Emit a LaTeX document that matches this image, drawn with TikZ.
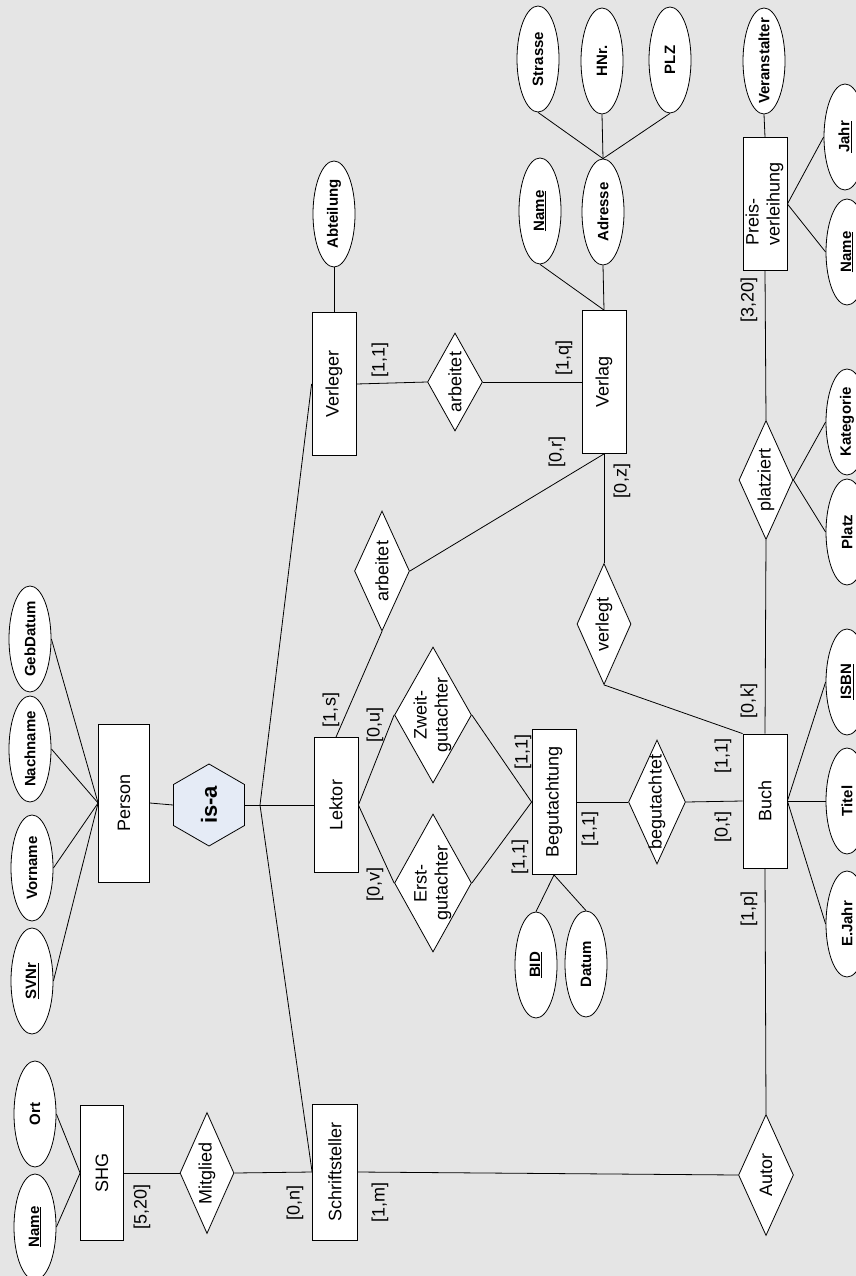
\documentclass[tikz,border=0pt]{standalone}
\usepackage{graphicx}
\usepackage{fontspec}
\setmainfont{Liberation Sans}
\usetikzlibrary{shapes.geometric}
\definecolor{bgcol}{RGB}{229,229,229}
\definecolor{isafill}{RGB}{229,235,246}
\newcommand\rtext[1]{\rotatebox{90}{#1}}
\newcommand\nf{\fontsize{18}{21}\selectfont}
\newcommand\af{\fontsize{15}{17}\selectfont\bfseries}
\tikzset{
  base/.style={draw=black, line width=0.8pt, fill=white, inner sep=0pt},
  entity/.style={base, rectangle, minimum width=44, minimum height=#1, font=\nf},
  rel/.style 2 args={base, diamond, minimum width=#1, minimum height=#2},
  attr/.style={base, ellipse, minimum width=42, minimum height=106},
  card/.style={inner sep=0pt, font=\nf},
  conn/.style={draw=black, line width=0.8pt},
}
\begin{document}
\begin{tikzpicture}[x=1pt,y=-1pt]
\useasboundingbox (0,0) rectangle (856,1276);
\fill[bgcol] (0,0) rectangle (856,1276);
\clip (0,0) rectangle (856,1276);

% entities
\node[entity=143] (verleger) at (334,384) {\rtext{Verleger}};
\node[entity=143] (verlag) at (604,382) {\rtext{Verlag}};
\node[entity=133] (preis) at (765,204) {\rtext{\begin{tabular}{@{}l@{}}Preis-\\verleihung\end{tabular}}};
\node[entity=158, minimum width=51] (person) at (124,803) {\rtext{Person}};
\node[entity=135] (lektor) at (336,805) {\rtext{Lektor}};
\node[entity=145] (begut) at (554,802) {\rtext{Begutachtung}};
\node[entity=134] (buch) at (765,801) {\rtext{Buch}};
\node[entity=136, minimum width=45] (schrift) at (335,1172) {\rtext{Schriftsteller}};
\node[entity=135, minimum width=43] (shg) at (102,1173) {\rtext{SHG}};

% is-a
\node[base, regular polygon, regular polygon sides=6, regular polygon rotate=30,
      minimum size=82, fill=isafill,
      label=center:{\rtext{\bfseries\fontsize{22}{24}\selectfont is-a}}] (isa) at (209,805) {};

% relationships
\node[rel={55}{98}, label=center:{\rtext{\nf arbeitet}}] (arb1) at (455,382) {};
\node[rel={55}{120}, label=center:{\rtext{\nf arbeitet}}] (arb2) at (382,571) {};
\node[rel={77}{136}, label=center:{\rtext{\nf\begin{tabular}{@{}c@{}}Zweit-\\gutachter\end{tabular}}}] (zweit) at (433,715) {};
\node[rel={77}{138}, label=center:{\rtext{\nf\begin{tabular}{@{}c@{}}Erst-\\gutachter\end{tabular}}}] (erst) at (433,883) {};
\node[rel={57}{124}, label=center:{\rtext{\nf begutachtet}}] (begrel) at (657,802) {};
\node[rel={54}{121}, label=center:{\rtext{\nf verlegt}}] (verlegt) at (604,624) {};
\node[rel={54}{119}, label=center:{\rtext{\nf platziert}}] (platziert) at (766,480) {};
\node[rel={55}{121}, label=center:{\rtext{\nf Autor}}] (autor) at (766,1175) {};
\node[rel={54}{121}, label=center:{\rtext{\nf Mitglied}}] (mitglied) at (207,1173) {};

% attributes
\node[attr, label=center:{\rtext{\af Abteilung}}] (abteilung) at (334,214) {};
\node[attr, label=center:{\rtext{\af\underline{Name}}}] (vname) at (540,211) {};
\node[attr, label=center:{\rtext{\af Adresse}}] (adresse) at (603,212) {};
\node[attr, label=center:{\rtext{\af Strasse}}] (strasse) at (538,59) {};
\node[attr, label=center:{\rtext{\af HNr.}}] (hnr) at (602,61) {};
\node[attr, label=center:{\rtext{\af PLZ}}] (plz) at (670,60) {};
\node[attr, label=center:{\rtext{\af Veranstalter}}] (veranst) at (764,61) {};
\node[attr, label=center:{\rtext{\af\underline{Jahr}}}] (jahr) at (845,137) {};
\node[attr, label=center:{\rtext{\af\underline{Name}}}] (pname) at (847,252) {};
\node[attr, label=center:{\rtext{\af Kategorie}}] (kategorie) at (847,422) {};
\node[attr, label=center:{\rtext{\af Platz}}] (platz) at (847,532) {};
\node[attr, label=center:{\rtext{\af\underline{ISBN}}}] (isbn) at (847,682) {};
\node[attr, label=center:{\rtext{\af Titel}}] (titel) at (847,801) {};
\node[attr, label=center:{\rtext{\af E.Jahr}}] (ejahr) at (847,924) {};
\node[attr, label=center:{\rtext{\af\underline{BID}}}] (bid) at (536,965) {};
\node[attr, label=center:{\rtext{\af Datum}}] (datum) at (586,964) {};
\node[attr, label=center:{\rtext{\af GebDatum}}] (gebdatum) at (30,639) {};
\node[attr, label=center:{\rtext{\af Nachname}}] (nachname) at (30,749) {};
\node[attr, label=center:{\rtext{\af Vorname}}] (vorname) at (32,868) {};
\node[attr, label=center:{\rtext{\af\underline{SVNr}}}] (svnr) at (32,981) {};
\node[attr, label=center:{\rtext{\af Ort}}] (ort) at (35,1114) {};
\node[attr, label=center:{\rtext{\af\underline{Name}}}] (sname) at (35,1227) {};

% cardinalities
\node[card] (c1) at (380,360) {\rtext{[1,1]}};
\node[card] (c2) at (564,358) {\rtext{[1,q]}};
\node[card] (c3) at (331,710) {\rtext{[1,s]}};
\node[card] (c4) at (375,725) {\rtext{[0,u]}};
\node[card] (c5) at (375,884) {\rtext{[0,v]}};
\node[card] (c6) at (557,452) {\rtext{[0,r]}};
\node[card] (c7) at (622,481) {\rtext{[0,z]}};
\node[card] (c8) at (523,752) {\rtext{[1,1]}};
\node[card] (c9) at (520,857) {\rtext{[1,1]}};
\node[card] (c10) at (590,829) {\rtext{[1,1]}};
\node[card] (c11) at (723,756) {\rtext{[1,1]}};
\node[card] (c12) at (723,827) {\rtext{[0,t]}};
\node[card] (c13) at (749,701) {\rtext{[0,k]}};
\node[card] (c14) at (749,300) {\rtext{[3,20]}};
\node[card] (c15) at (749,909) {\rtext{[1,p]}};
\node[card] (c16) at (380,1202) {\rtext{[1,m]}};
\node[card] (c17) at (295,1203) {\rtext{[0,n]}};
\node[card] (c18) at (142,1207) {\rtext{[5,20]}};

% connectors
\coordinate (j) at (260,805);
\draw[conn] (person.east) -- (isa.west);
\draw[conn] (isa.east) -- (lektor.west);
\draw[conn] (j) -- (verleger.west);
\draw[conn] (j) -- (schrift.west);

\draw[conn] (abteilung.south) -- (verleger.north);
\draw[conn] (verleger.east) -- (arb1.west);
\draw[conn] (arb1.east) -- (verlag.west);
\draw[conn] (vname.south) -- (verlag.north);
\draw[conn] (adresse.south) -- (verlag.north);
\draw[conn] (strasse.south) -- (adresse.north);
\draw[conn] (hnr.south) -- (adresse.north);
\draw[conn] (plz.south) -- (adresse.north);

\draw[conn] (veranst.south) -- (preis.north);
\draw[conn] (preis.east) -- (jahr.west);
\draw[conn] (preis.east) -- (pname.west);
\draw[conn] (preis.south) -- (platziert.north);
\draw[conn] (platziert.south) -- (buch.north);
\draw[conn] (platziert.east) -- (kategorie.west);
\draw[conn] (platziert.east) -- (platz.west);

\draw[conn] (lektor.north) -- (arb2.south);
\draw[conn] (arb2.east) -- (verlag.south);
\draw[conn] (verlag.south) -- (verlegt.north);
\draw[conn] (verlegt.south) -- (buch.north west);

\draw[conn] (lektor.east) -- (zweit.west);
\draw[conn] (lektor.east) -- (erst.west);
\draw[conn] (zweit.east) -- (begut.west);
\draw[conn] (erst.east) -- (begut.west);
\draw[conn] (begut.east) -- (begrel.west);
\draw[conn] (begrel.east) -- (buch.west);
\draw[conn] (begut.south) -- (bid.north);
\draw[conn] (begut.south) -- (datum.north);

\draw[conn] (buch.east) -- (isbn.west);
\draw[conn] (buch.east) -- (titel.west);
\draw[conn] (buch.east) -- (ejahr.west);
\draw[conn] (buch.south) -- (autor.north);
\draw[conn] (schrift.east) -- (autor.west);

\draw[conn] (gebdatum.east) -- (person.west);
\draw[conn] (nachname.east) -- (person.west);
\draw[conn] (vorname.east) -- (person.west);
\draw[conn] (svnr.east) -- (person.west);

\draw[conn] (shg.east) -- (mitglied.west);
\draw[conn] (mitglied.east) -- (schrift.west);
\draw[conn] (ort.east) -- (shg.west);
\draw[conn] (sname.east) -- (shg.west);
\end{tikzpicture}
\end{document}
